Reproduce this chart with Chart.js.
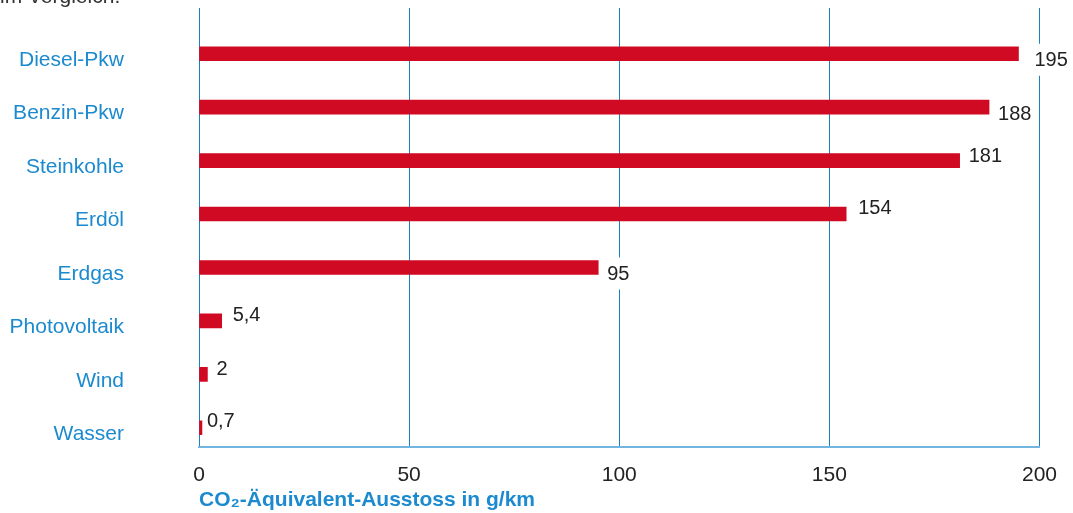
<!DOCTYPE html>
<html lang="de">
<head>
  <meta charset="UTF-8">
  <title>CO2-Äquivalent-Ausstoss im Vergleich</title>
  <script src="https://cdn.jsdelivr.net/npm/chart.js@4"></script>
  <style>
    html, body { margin: 0; padding: 0; background: #fff; overflow: hidden; }
    #wrap { position: relative; width: 1073px; height: 513px; }
    #lead { position: absolute; left: 0; top: -15px; font: 21px "Liberation Sans", Arial, sans-serif; line-height: 21px; color: #333; white-space: nowrap; }
  </style>
</head>
<body>
  <div id="wrap">
    <div id="lead">im Vergleich.</div>
    <canvas id="chart" width="1073" height="513"></canvas>
  </div>

  <script>
    // Daten
    const categories = ['Diesel-Pkw', 'Benzin-Pkw', 'Steinkohle', 'Erdöl', 'Erdgas', 'Photovoltaik', 'Wind', 'Wasser'];
    const emissions = [195, 188, 181, 154, 95, 5.4, 2, 0.7];
    const valueLabels = ['195', '188', '181', '154', '95', '5,4', '2', '0,7'];
    const xTicks = [0, 50, 100, 150, 200];
    const axisTitle = 'CO₂-Äquivalent-Ausstoss in g/km';

    // label placement relative to bar end (style only)
    const labelNudge = [[16, 6], [9, 6], [9, -5], [12, -7], [9, 6], [11, -6], [9, -6], [5, -7]];

    const FONT = '"Liberation Sans", Arial, sans-serif';
    const BLUE_TEXT = '#1b8ace';
    const GRID_BLUE = '#1b7fc6';

    // value labels with white background over the grid lines
    const valueLabelPlugin = {
      id: 'valueLabels',
      afterDatasetsDraw(chart) {
        const ctx = chart.ctx;
        const meta = chart.getDatasetMeta(0);
        ctx.save();
        ctx.font = '20px ' + FONT;
        ctx.textAlign = 'left';
        ctx.textBaseline = 'middle';
        meta.data.forEach((bar, i) => {
          const [dx, dy] = labelNudge[i];
          const txt = valueLabels[i];
          const w = ctx.measureText(txt).width;
          const x = bar.x + dx;
          const y = bar.y + dy;
          ctx.fillStyle = '#fff';
          ctx.fillRect(x - 3, y - 16, w + 6, 32);
          ctx.fillStyle = '#222';
          ctx.fillText(txt, x, y + 1);
        });
        ctx.restore();
      }
    };

    const data = {
      datasets: [{
        data: categories.map((c, i) => ({ x: emissions[i], y: i })),
        backgroundColor: '#cf0a22',
        borderWidth: 0,
        barThickness: 14
      }]
    };

    new Chart(document.getElementById('chart'), {
      type: 'bar',
      data: data,
      options: {
        indexAxis: 'y',
        responsive: false,
        animation: false,
        layout: { padding: { top: 8, right: 30, bottom: 0, left: 0 } },
        plugins: {
          legend: { display: false },
          tooltip: { enabled: false }
        },
        scales: {
          x: {
            type: 'linear',
            min: 0,
            max: 200,
            afterBuildTicks: s => { s.ticks = xTicks.map(v => ({ value: v })); },
            afterFit: s => { s.height = 66; },
            grid: { color: GRID_BLUE, lineWidth: 1, drawTicks: false },
            border: { display: true, color: '#72b5e0', width: 2 },
            ticks: { color: '#222', font: { family: FONT, size: 21 }, padding: 16 },
            title: {
              display: true,
              text: axisTitle,
              align: 'start',
              color: BLUE_TEXT,
              font: { family: FONT, size: 21, weight: 'bold' },
              padding: { top: 2, bottom: 0 }
            }
          },
          y: {
            type: 'linear',
            reverse: true,
            offset: false,
            min: -0.856,
            max: 7.36,
            afterBuildTicks: s => { s.ticks = categories.map((c, i) => ({ value: i + 0.12 })); },
            afterFit: s => { s.width = 199; s.paddingTop = 0; s.paddingBottom = 0; },
            grid: { display: false, drawTicks: false, offset: false },
            border: { display: false },
            ticks: {
              color: BLUE_TEXT,
              font: { family: FONT, size: 21 },
              padding: 75,
              callback: v => categories[Math.round(v)] || ''
            }
          }
        }
      },
      plugins: [valueLabelPlugin]
    });
  </script>
</body>
</html>
